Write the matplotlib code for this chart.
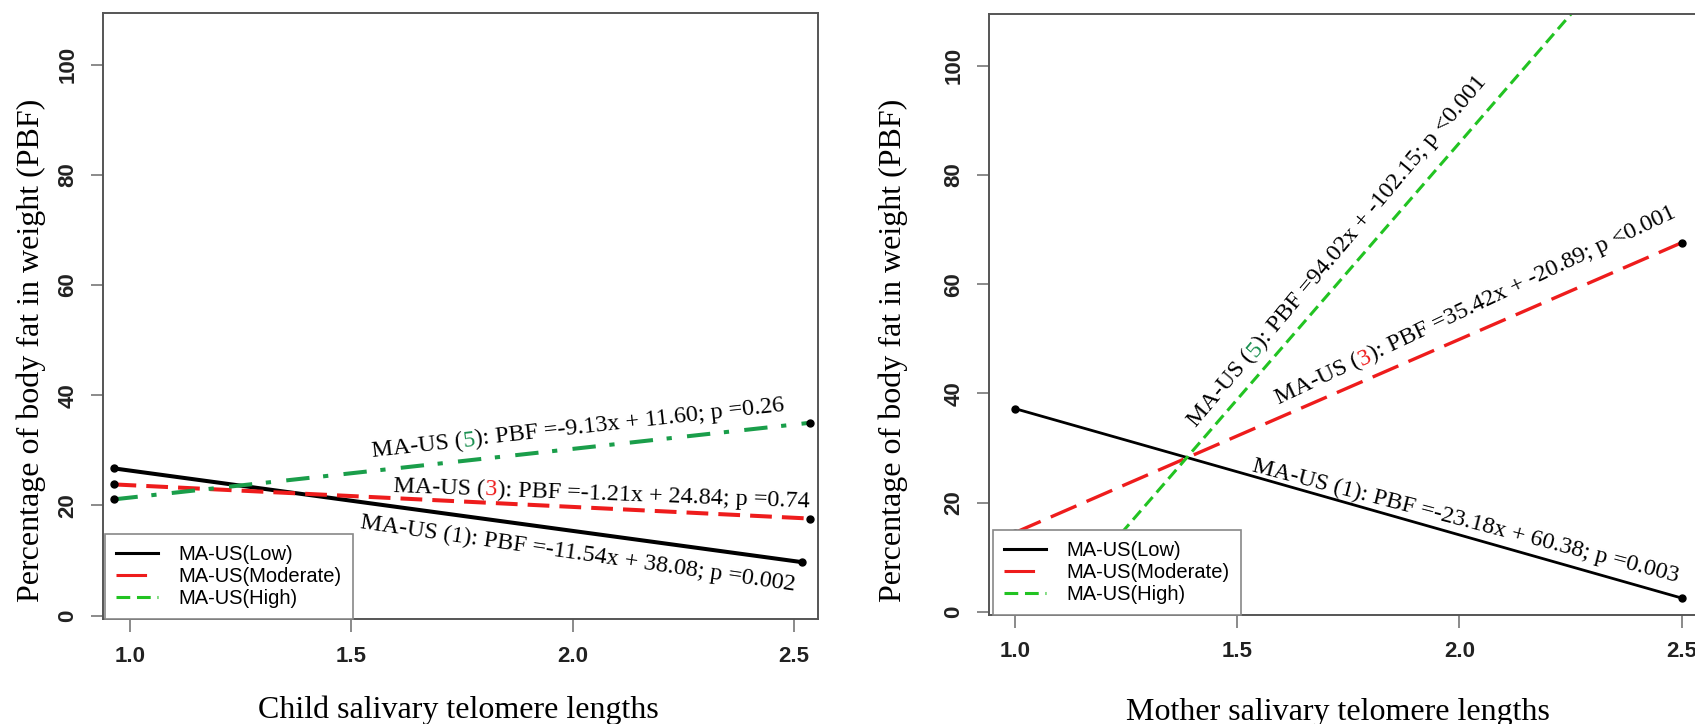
import math
import matplotlib
matplotlib.use("Agg")
import matplotlib.pyplot as plt
from matplotlib.lines import Line2D
from matplotlib.font_manager import FontProperties

# ---- data ----
child_x_low = [0.965, 2.517]
child_low = [26.7, 9.7]
child_x = [0.965, 2.537]
child_mod = [23.8, 17.6]
child_high = [21.1, 35.0]

mother_x = [1.0, 2.5]
mother_low = [37.2, 2.5]
mother_mod = [14.5, 67.6]
mother_high = [-8.1, 132.9]

legend_labels = ["MA-US(Low)", "MA-US(Moderate)", "MA-US(High)"]
x_ticks = [1.0, 1.5, 2.0, 2.5]
y_ticks = [0, 20, 40, 60, 80, 100]

# equation labels: (x, y, angle, prefix, digit, suffix)
child_eqs = [
    (1.547, 28.8, 6.3, "MA-US (", "5", "): PBF =-9.13x + 11.60; p =0.26"),
    (1.595, 22.4, -2.1, "MA-US (", "3", "): PBF =-1.21x + 24.84; p =0.74"),
    (1.518, 15.8, -8.2, "MA-US (1): PBF =-11.54x + 38.08; p =0.002", "", ""),
]
mother_eqs = [
    (1.408, 33.6, 50.0, "MA-US (", "5", "): PBF =94.02x + -102.15; p <0.001"),
    (1.594, 37.9, 25.3, "MA-US (", "3", "): PBF =35.42x + -20.89; p <0.001"),
    (1.532, 25.7, -14.6, "MA-US (1): PBF =-23.18x + 60.38; p =0.003", "", ""),
]
digit_colors = {"5": "#1a9050", "3": "#ee1c1c"}

BLACK = "#000000"
RED = "#ee1c1c"
DKGREEN = "#1a9e4a"
GREEN = "#22c322"
SERIF = "Liberation Serif"
SANS = "Liberation Sans"
EQ_SIZE = 17.4
DPI = 100


def style_axes(ax, xlim, ylim):
    ax.set_xlim(*xlim)
    ax.set_ylim(*ylim)
    ax.set_xticks(x_ticks)
    ax.set_xticklabels(["%.1f" % v for v in x_ticks])
    ax.set_yticks(y_ticks)
    ax.set_yticklabels([str(v) for v in y_ticks], rotation=90, va="center")
    for sp in ax.spines.values():
        sp.set_color("#555555")
        sp.set_linewidth(1.4)
    ax.tick_params(direction="out", length=9, width=1.2, color="#777777")
    ax.tick_params(axis="x", pad=10)
    ax.tick_params(axis="y", pad=9)
    for lab in ax.get_xticklabels() + ax.get_yticklabels():
        lab.set_fontfamily(SANS)
        lab.set_fontweight("bold")
        lab.set_fontsize(16)
        lab.set_color("#222222")


def eq_label(ax, renderer, x, y, ang, pre, digit, post):
    # pieces laid side by side along the rotated baseline
    prop = FontProperties(family=SERIF, size=EQ_SIZE)

    def width(s):
        return renderer.get_text_width_height_descent(s, prop, ismath=False)[0]

    full = pre + digit + post
    pieces = [(pre, 0.0, BLACK)]
    if digit:
        pieces.append((digit, width(pre + digit) - width(digit), digit_colors[digit]))
        pieces.append((post, width(full) - width(post), BLACK))
    c, s = math.cos(math.radians(ang)), math.sin(math.radians(ang))
    for txt, off, col in pieces:
        off_pt = off * 72.0 / DPI
        ax.annotate(txt, (x, y), xytext=(off_pt * c, off_pt * s),
                    textcoords="offset points", rotation=ang,
                    rotation_mode="anchor", ha="left", va="baseline",
                    fontproperties=prop, color=col, zorder=5,
                    annotation_clip=False)


def add_legend(ax, x0):
    handles = [
        Line2D([], [], color=BLACK, lw=2.2),
        Line2D([], [], color=RED, lw=2.2, dashes=(10, 4)),
        Line2D([], [], color=GREEN, lw=2.2, dashes=(4.5, 2.2)),
    ]
    leg = ax.legend(handles, legend_labels, loc="lower left",
                    bbox_to_anchor=(x0, 0.0), borderaxespad=0,
                    prop={"family": SANS, "size": 14.5},
                    handlelength=2.1, handletextpad=1.0, borderpad=0.55,
                    labelspacing=0.15, fancybox=False, framealpha=1)
    leg.get_frame().set_edgecolor("#888888")
    leg.get_frame().set_linewidth(1.2)
    leg.set_zorder(10)


fig = plt.figure(figsize=(16.95, 7.24), dpi=DPI)
renderer = fig.canvas.get_renderer()

# ---- left: child ----
ax1 = fig.add_axes([0.06094, 0.14461, 0.42189, 0.83743])
ax1.plot(child_x_low, child_low, color=BLACK, lw=2.9, solid_capstyle="butt")
ax1.plot(child_x, child_mod, color=RED, lw=2.9, dashes=(5.4, 2.5))
ax1.plot(child_x, child_high, color=DKGREEN, lw=2.9, dashes=(5.8, 3.4, 1.3, 3.8))
ax1.plot(child_x_low, child_low, "o", color=BLACK, ms=5)
ax1.plot(child_x, child_mod, "o", color=BLACK, ms=5)
ax1.plot(child_x, child_high, "o", color=BLACK, ms=5)
style_axes(ax1, (0.9397, 2.5551), (-0.69, 109.4))
for e in child_eqs:
    eq_label(ax1, renderer, *e)
add_legend(ax1, 0.0024)

# ---- right: mother ----
ax2 = fig.add_axes([0.58366, 0.15055, 0.42425, 0.83025])
ax2.plot(mother_x, mother_low, color=BLACK, lw=2.0)
ax2.plot(mother_x, mother_mod, color=RED, lw=2.4, dashes=(8.4, 3.3))
ax2.plot(mother_x, mother_high, color=GREEN, lw=2.2, dashes=(3.9, 2.0))
ax2.plot(mother_x, mother_low, "o", color=BLACK, ms=5)
ax2.plot(mother_x, mother_mod, "o", color=BLACK, ms=5)
style_axes(ax2, (0.9422, 2.56), (-0.6, 109.5))
for e in mother_eqs:
    eq_label(ax2, renderer, *e)
add_legend(ax2, 0.005)

# ---- axis titles ----
lab_kw = dict(family=SERIF, fontsize=23, color=BLACK)
fig.text(0.2702, 0.0079, "Child salivary telomere lengths", ha="center", va="baseline", **lab_kw)
fig.text(0.7894, 0.0055, "Mother salivary telomere lengths", ha="center", va="baseline", **lab_kw)
fig.text(31 / 1695, 0.5166, "Percentage of body fat in weight (PBF)", rotation=90,
         ha="center", va="center", **lab_kw)
fig.text(893 / 1695, 0.5166, "Percentage of body fat in weight (PBF)", rotation=90,
         ha="center", va="center", **lab_kw)

fig.savefig("out.png", dpi=DPI)
